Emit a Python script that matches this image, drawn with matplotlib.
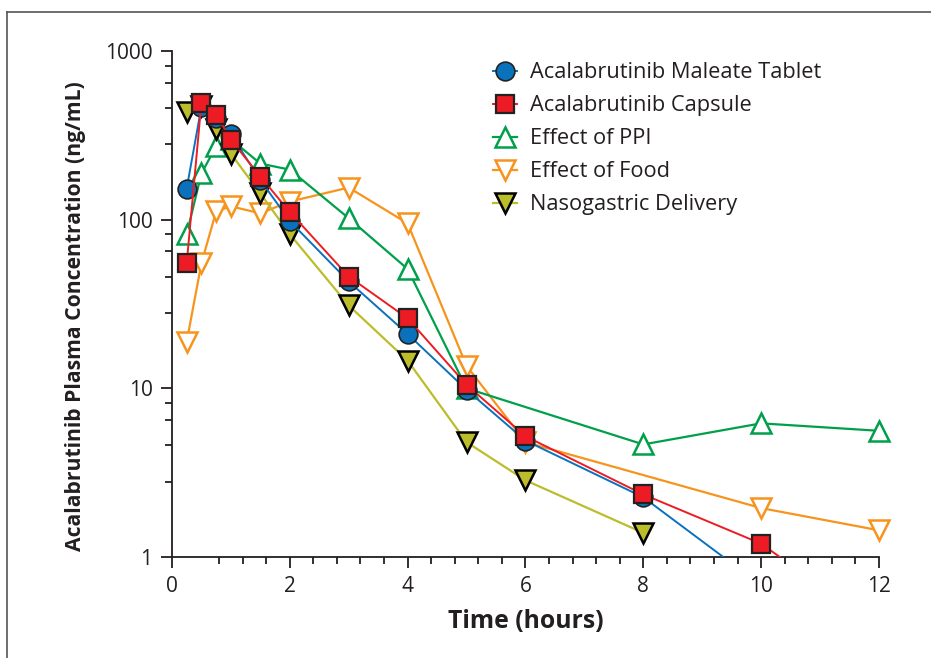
import matplotlib
matplotlib.use("Agg")
import matplotlib.pyplot as plt
from matplotlib.lines import Line2D
from matplotlib.patches import Rectangle
from matplotlib.ticker import FixedLocator, NullFormatter

plt.rcParams['font.family'] = ['Open Sans', 'DejaVu Sans']

# Concentration-time data (ng/mL)
t_tablet = [0.25, 0.5, 0.75, 1, 1.5, 2, 3, 4, 5, 6, 8, 10]
tablet = [153, 467, 400, 320, 172, 98, 43, 21, 9.8, 4.9, 2.26, 0.68]

t_capsule = [0.25, 0.5, 0.75, 1, 1.5, 2, 3, 4, 5, 6, 8, 10, 12]
capsule = [55, 494, 420, 298, 180, 111, 46, 26, 10.5, 5.2, 2.35, 1.2, 0.38]

t_ppi = [0.25, 0.5, 0.75, 1, 1.5, 2, 3, 4, 5, 8, 10, 12]
ppi = [82, 188, 272, 300, 215, 198, 102, 51, 10, 4.65, 6.2, 5.6]

t_food = [0.25, 0.5, 0.75, 1, 1.5, 2, 3, 4, 5, 6, 10, 12]
food = [18.9, 55, 112, 120, 109, 128, 155, 95, 13.6, 4.8, 1.95, 1.44]

t_ng = [0.25, 0.5, 0.75, 1, 1.5, 2, 3, 4, 5, 6, 8]
nasogastric = [437, 470, 346, 246, 143, 82, 31, 14.6, 4.8, 2.85, 1.39]

labels = ["Acalabrutinib Maleate Tablet", "Acalabrutinib Capsule",
          "Effect of PPI", "Effect of Food", "Nasogastric Delivery"]

x_major = [0, 2, 4, 6, 8, 10, 12]
y_major = [1, 10, 100, 1000]
y_major_labels = ["1", "10", "100", "1000"]
y_minor_steps = [2.8, 4.6, 6.5, 8.2]

blue = "#0a72bc"
red = "#ed1c24"
green = "#00a04b"
orange = "#f7941d"
olive = "#bcbd2a"

fig = plt.figure(figsize=(9.31, 6.58), dpi=100)
ax = fig.add_axes([0.1847, 0.1535, 0.9441 - 0.1847, 0.9225 - 0.1535])

lines = []
lines += ax.plot(t_food, food, color=orange, lw=1.6, marker="v", ms=15,
                 mfc="white", mec=orange, mew=1.8, zorder=2, label=labels[3])
lines += ax.plot(t_ppi, ppi, color=green, lw=1.6, marker="^", ms=15,
                 mfc="white", mec=green, mew=1.8, zorder=3, label=labels[2])
lines += ax.plot(t_ng, nasogastric, color=olive, lw=1.6, marker="v", ms=15,
                 mfc=olive, mec="black", mew=1.8, zorder=4, label=labels[4])
lines += ax.plot(t_tablet, tablet, color=blue, lw=1.4, marker="o", ms=13.5,
                 mfc=blue, mec="#222222", mew=1.2, zorder=5, label=labels[0])
lines += ax.plot(t_capsule, capsule, color=red, lw=1.4, marker="s", ms=13.5,
                 mfc=red, mec="#222222", mew=1.6, zorder=6, label=labels[1])

# clip only below y=1, let the end markers hang over the right edge
clip = Rectangle((-0.1, 0), 1.2, 1.2, transform=ax.transAxes,
                 facecolor="none", edgecolor="none")
for ln in lines:
    ln.set_clip_path(clip)

ax.set_yscale("log")
ax.set_xlim(0, 12)
ax.set_ylim(1, 1000)

ax.set_xticks(x_major)
ax.xaxis.set_minor_locator(FixedLocator(
    [0.8 + 0.4 * i for i in range(28) if round((0.8 + 0.4 * i) % 2, 3) not in (0, 2)]))
ax.set_yticks(y_major)
ax.set_yticklabels(y_major_labels)
ax.yaxis.set_minor_locator(FixedLocator(
    [s * d for d in (1, 10, 100) for s in y_minor_steps]))
ax.yaxis.set_minor_formatter(NullFormatter())

ax.tick_params(which="major", length=8, width=1.3, labelsize=15,
               color="#231f20", labelcolor="#231f20", pad=6)
ax.tick_params(which="minor", length=5, width=1.3, color="#231f20")

for side in ("top", "right"):
    ax.spines[side].set_visible(False)
for side in ("left", "bottom"):
    ax.spines[side].set_linewidth(1.3)
    ax.spines[side].set_color("#231f20")

ax.set_xlabel("Time (hours)", fontsize=17.8, fontweight="bold",
              color="#231f20", labelpad=8)
ax.set_ylabel("Acalabrutinib Plasma Concentration (ng/mL)", fontsize=15.2,
              fontweight="bold", color="#231f20")
ax.yaxis.set_label_coords(-0.121, 0.476)

handles, labs = ax.get_legend_handles_labels()
order = [labs.index(l) for l in labels]
ax.legend([handles[i] for i in order], [labs[i] for i in order],
          loc="upper left", bbox_to_anchor=(0.432, 1.008), frameon=False,
          fontsize=15.7, handlelength=1.1, handletextpad=0.62,
          labelspacing=0.55, borderaxespad=0.3, labelcolor="#231f20")

# thin frame around the figure panel
fig.add_artist(Line2D([7 / 931, 1], [1 - 12 / 658, 1 - 12 / 658],
                      transform=fig.transFigure, color="#555555", lw=1.2))
fig.add_artist(Line2D([7 / 931, 7 / 931], [0, 1 - 12 / 658],
                      transform=fig.transFigure, color="#555555", lw=1.2))

fig.savefig("out.png", dpi=100)
